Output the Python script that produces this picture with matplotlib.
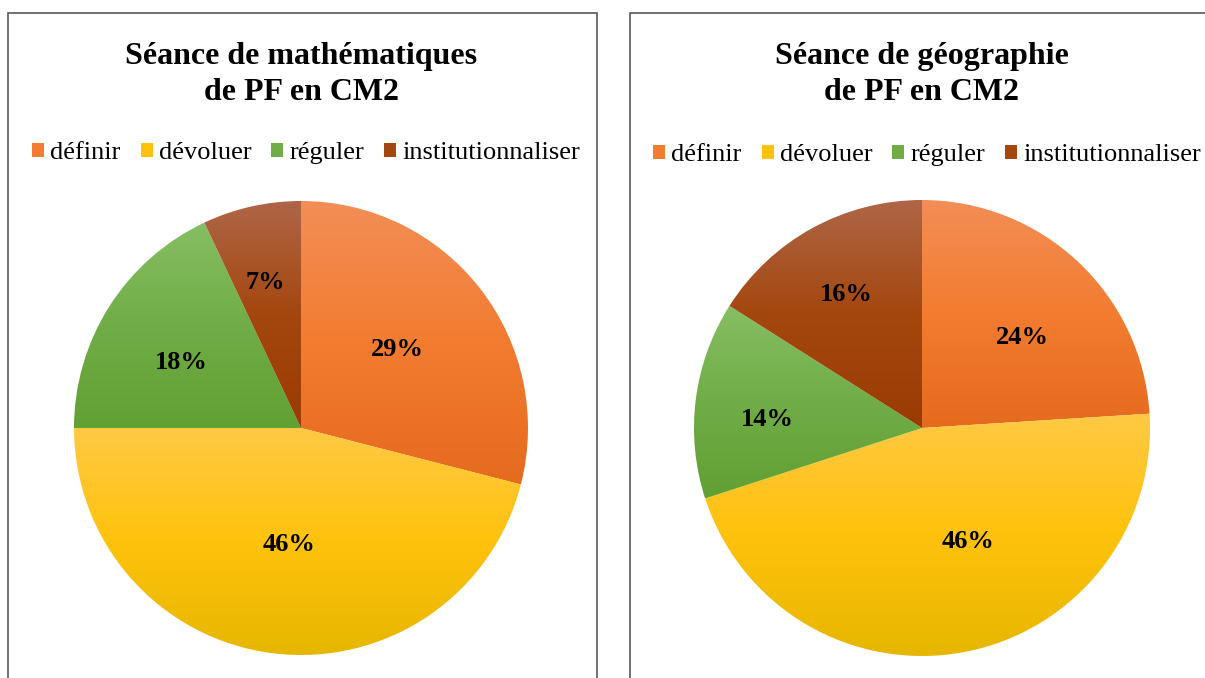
import numpy as np
import matplotlib
matplotlib.use('Agg')
import matplotlib.pyplot as plt
from matplotlib.colors import LinearSegmentedColormap
from matplotlib.patches import Rectangle, Patch

categories = ['définir', 'dévoluer', 'réguler', 'institutionnaliser']
maths_values = [29, 46, 18, 7]
geo_values = [24, 46, 14, 16]
titles = ['Séance de mathématiques\nde PF en CM2', 'Séance de géographie\nde PF en CM2']

# (light top, base, dark bottom) for the gradient fill of each slice
shades = [('#F28E57', '#F37C30', '#E56B1D'),
          ('#FFC945', '#FFC20C', '#E6B700'),
          ('#87BE64', '#70AD47', '#61A033'),
          ('#AF6647', '#A4470F', '#9A3B04')]

# label centres as fractions of the radius
maths_label_pos = [(0.423, 0.345), (-0.053, -0.515), (-0.529, 0.288), (-0.159, 0.64)]
geo_label_pos = [(0.439, 0.397), (0.202, -0.499), (-0.680, 0.037), (-0.333, 0.585)]

W, H = 1205, 678
plt.rcParams['font.family'] = ['Liberation Serif', 'DejaVu Serif']

fig = plt.figure(figsize=(W / 100, H / 100), dpi=100)


def draw_pie(cx, cy, r, values, title, label_pos, legend_cx, legend_cy):
    ax = fig.add_axes([(cx - r) / W, 1 - (cy + r) / H, 2 * r / W, 2 * r / H])
    wedges, _ = ax.pie(values, startangle=90, counterclock=False, radius=1,
                       wedgeprops=dict(linewidth=0))
    grad = np.linspace(0, 1, 256).reshape(-1, 1)
    for w, sh in zip(wedges, shades):
        w.set_facecolor('none')
        ext = w.get_path().get_extents()
        cmap = LinearSegmentedColormap.from_list('g', list(sh))
        im = ax.imshow(grad, cmap=cmap, aspect='auto',
                       extent=(ext.x0, ext.x1, ext.y0, ext.y1), origin='upper')
        im.set_clip_path(w)
    for (dx, dy), v in zip(label_pos, values):
        ax.text(dx, dy, '{}%'.format(v), ha='center', va='center',
                fontsize=19, fontweight='bold', color='black')
    ax.set_xlim(-1, 1)
    ax.set_ylim(-1, 1)
    ax.axis('off')

    fig.text(cx / W, 1 - 74.5 / H, title, ha='center', va='center',
             fontsize=23, fontweight='bold', linespacing=1.36)
    handles = [Patch(facecolor=sh[1], edgecolor='none') for sh in shades]
    fig.legend(handles, categories, loc='center',
               bbox_to_anchor=(legend_cx / W, 1 - legend_cy / H), ncol=4,
               frameon=False, fontsize=19, handlelength=0.45, handleheight=0.45,
               handletextpad=0.23, columnspacing=0.76, borderaxespad=0, borderpad=0)


draw_pie(301, 428, 227, maths_values, titles[0], maths_label_pos, 306, 153)
draw_pie(922, 428, 228, geo_values, titles[1], geo_label_pos, 927, 155)

# chart area borders
fig.add_artist(Rectangle((8 / W, -0.1), 589 / W, (H - 13) / H + 0.1,
                         transform=fig.transFigure, fill=False,
                         edgecolor='#595959', linewidth=1.2))
fig.add_artist(Rectangle((630 / W, -0.1), 600 / W, (H - 13) / H + 0.1,
                         transform=fig.transFigure, fill=False,
                         edgecolor='#595959', linewidth=1.2))

fig.savefig('out.png', dpi=100)
